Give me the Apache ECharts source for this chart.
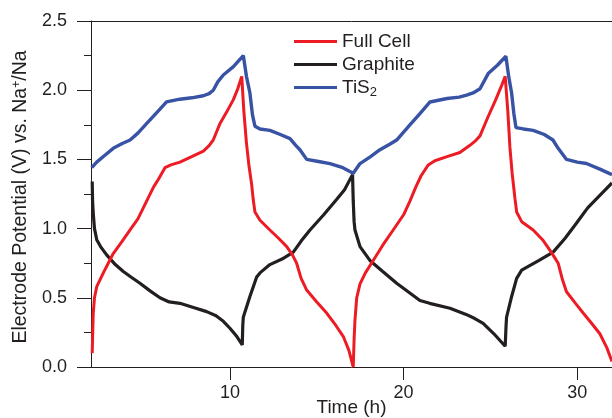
<!DOCTYPE html>
<html>
<head>
<meta charset="utf-8">
<script src="https://cdn.jsdelivr.net/npm/echarts@6/dist/echarts.min.js"></script>
<style>
html,body{margin:0;padding:0;background:#fff;}
#chart{width:612px;height:418px;}
</style>
</head>
<body>
<div id="chart"></div>
<script>
// ---- Data ----
const seriesNames = ['Full Cell', 'Graphite', 'TiS2'];
const xTickValues = [10, 20, 30];

const fullCellTime = [2.07,2.10,2.13,2.2,2.33,2.71,3.28,3.8,4.25,4.7,5.21,5.6,5.9,6.26,6.6,7.12,7.8,8.47,8.8,9.04,9.43,9.8,10.19,10.45,10.68,10.8,10.95,11.1,11.25,11.34,11.44,11.73,12.3,12.8,13.27,13.6,13.84,14.1,14.42,15.0,15.57,16.1,16.53,16.85,17.1,
  17.15,17.2,17.3,17.49,17.8,18.25,18.8,19.4,20.0,20.37,20.7,21.0,21.42,21.8,22.5,23.24,23.8,24.1,24.4,24.87,25.3,25.6,25.85,26.0,26.12,26.25,26.41,26.51,26.8,27.46,28.0,28.42,28.7,28.9,29.15,29.38,29.9,30.34,30.8,31.3,31.7,32.0];
const fullCellVolt = [0.10,0.25,0.39,0.50,0.58,0.68,0.82,0.91,0.99,1.07,1.20,1.30,1.36,1.44,1.46,1.48,1.52,1.56,1.60,1.64,1.76,1.84,1.93,2.01,2.10,1.85,1.62,1.45,1.32,1.21,1.12,1.06,0.99,0.93,0.87,0.81,0.75,0.64,0.556,0.47,0.39,0.30,0.22,0.12,0.0,
  0.20,0.34,0.50,0.60,0.68,0.77,0.88,0.99,1.10,1.20,1.30,1.38,1.46,1.49,1.52,1.55,1.60,1.63,1.67,1.81,1.93,2.02,2.10,1.85,1.59,1.40,1.22,1.12,1.05,0.99,0.92,0.845,0.79,0.75,0.63,0.544,0.46,0.39,0.32,0.24,0.14,0.04];

const graphiteTime = [2.07,2.09,2.13,2.2,2.33,2.55,2.9,3.4,3.86,4.3,4.82,5.4,5.97,6.5,7.12,7.9,8.66,9.2,9.62,10.0,10.4,10.71,10.74,10.77,10.87,11.15,11.54,11.73,12.3,13.0,13.65,14.1,14.61,15.4,16.14,16.6,17.06,
  17.1,17.15,17.2,17.49,18.06,18.8,19.6,20.3,20.94,21.5,22.67,23.6,24.1,24.58,25.2,25.85,25.9,25.93,26.2,26.51,26.8,27.08,27.8,28.61,29.3,29.96,30.6,31.3,32.0];
const graphiteVolt = [1.34,1.20,1.11,1.00,0.92,0.87,0.81,0.74,0.69,0.65,0.605,0.55,0.50,0.47,0.46,0.43,0.40,0.37,0.33,0.28,0.22,0.16,0.30,0.36,0.40,0.51,0.65,0.68,0.74,0.78,0.83,0.91,0.99,1.10,1.21,1.28,1.39,
  1.20,1.05,0.99,0.87,0.77,0.69,0.605,0.54,0.48,0.46,0.424,0.38,0.35,0.315,0.24,0.15,0.30,0.36,0.50,0.64,0.70,0.72,0.77,0.83,0.93,1.04,1.15,1.24,1.33];

const tis2Time = [2.04,2.33,2.8,3.28,3.8,4.25,4.7,5.21,5.8,6.35,6.7,7.12,7.8,8.47,8.8,9.04,9.3,9.62,10.2,10.77,10.95,11.15,11.3,11.44,11.73,12.3,12.9,13.46,13.8,14.03,14.42,15.1,15.76,16.5,17.1,
  17.49,18.1,18.64,19.2,19.6,20.3,20.94,21.52,22.5,23.2,23.63,24.0,24.4,24.87,25.4,25.89,26.05,26.22,26.35,26.47,26.9,27.46,28.1,28.6,28.9,29.38,30.0,30.53,31.3,32.0];
const tis2Volt = [1.44,1.48,1.53,1.58,1.615,1.64,1.69,1.76,1.84,1.915,1.925,1.935,1.945,1.96,1.975,2.0,2.06,2.11,2.17,2.25,2.10,1.98,1.82,1.74,1.72,1.71,1.68,1.65,1.60,1.57,1.50,1.485,1.47,1.44,1.40,
  1.47,1.52,1.57,1.61,1.64,1.74,1.83,1.915,1.94,1.95,1.965,1.98,2.01,2.12,2.18,2.245,2.10,1.98,1.83,1.73,1.72,1.71,1.68,1.64,1.58,1.50,1.48,1.47,1.43,1.39];

// ---- Chart ----
const FONT = '"Liberation Sans", Arial, Helvetica, sans-serif';
const TXT = '#231f20';
function pairs(xs, ys) { return xs.map((x, i) => [x, ys[i]]); }

const chart = echarts.init(document.getElementById('chart'), null, {renderer: 'canvas'});
chart.setOption({
  animation: false,
  backgroundColor: '#ffffff',
  grid: {left: 91, right: 0, top: 21, bottom: 51, containLabel: false, outerBoundsMode: 'none'},
  legend: {
    orient: 'vertical',
    left: 294,
    top: 30,
    padding: 0,
    itemWidth: 43,
    itemHeight: 3,
    itemGap: 0,
    icon: 'rect',
    data: seriesNames,
    formatter: function (n) { return n === 'TiS2' ? 'TiS{sub|2}' : n; },
    textStyle: {
      fontFamily: FONT, fontSize: 19, color: TXT, lineHeight: 23,
      rich: {sub: {fontFamily: FONT, fontSize: 13, color: TXT, verticalAlign: 'bottom', lineHeight: 14}}
    }
  },
  xAxis: [{
    type: 'value',
    min: 2, max: 32,
    position: 'bottom',
    name: 'Time (h)',
    nameLocation: 'middle',
    nameGap: 31,
    nameMoveOverlap: false,
    nameTextStyle: {fontFamily: FONT, fontSize: 19, color: TXT},
    axisLine: {show: true, onZero: false, lineStyle: {color: TXT, width: 1}},
    axisTick: {show: true, inside: false, length: 13, lineStyle: {color: TXT}, customValues: xTickValues},
    axisLabel: {fontFamily: FONT, fontSize: 18, color: TXT, margin: 17, customValues: xTickValues},
    splitLine: {show: false}
  }, {
    type: 'value',
    min: 2, max: 32,
    position: 'top',
    axisLine: {show: true, onZero: false, lineStyle: {color: TXT, width: 1}},
    axisTick: {show: false},
    axisLabel: {show: false},
    splitLine: {show: false}
  }],
  yAxis: {
    type: 'value',
    min: 0, max: 2.5, interval: 0.5,
    name: 'Electrode Potential (V) vs. Na{sup|+}/Na',
    nameLocation: 'middle',
    nameGap: 60,
    nameMoveOverlap: false,
    nameTextStyle: {
      fontFamily: FONT, fontSize: 19.5, color: TXT, padding: [0, 6, 0, 0],
      rich: {sup: {fontFamily: FONT, fontSize: 12, color: TXT, verticalAlign: 'top', lineHeight: 12}}
    },
    axisLine: {show: true, onZero: false, lineStyle: {color: TXT, width: 1}},
    axisTick: {show: true, inside: false, length: 14, lineStyle: {color: TXT}},
    minorTick: {show: true, splitNumber: 2, length: 7, lineStyle: {color: TXT}},
    axisLabel: {fontFamily: FONT, fontSize: 18, color: TXT, margin: 24, formatter: v => v.toFixed(1)},
    splitLine: {show: false},
    minorSplitLine: {show: false}
  },
  series: [
    {name: 'Graphite', type: 'line', data: pairs(graphiteTime, graphiteVolt), showSymbol: false, symbol: 'none',
      lineStyle: {color: '#231f20', width: 3.2}, itemStyle: {color: '#231f20'}, clip: true, z: 2},
    {name: 'Full Cell', type: 'line', data: pairs(fullCellTime, fullCellVolt), showSymbol: false, symbol: 'none',
      lineStyle: {color: '#ed1c24', width: 3}, itemStyle: {color: '#ed1c24'}, clip: true, z: 3},
    {name: 'TiS2', type: 'line', data: pairs(tis2Time, tis2Volt), showSymbol: false, symbol: 'none',
      lineStyle: {color: '#3953a4', width: 3.4}, itemStyle: {color: '#3953a4'}, clip: true, z: 4}
  ]
});
</script>
</body>
</html>
